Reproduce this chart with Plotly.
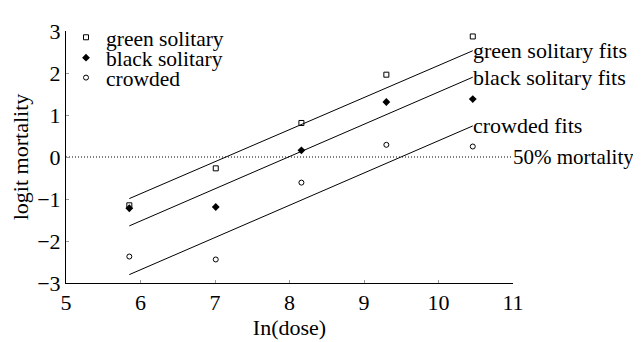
import plotly.graph_objects as go

dose = [5.85, 7.01, 8.16, 9.30, 10.46]
green_solitary = [-1.15, -0.27, 0.81, 1.96, 2.87]
black_solitary = [-1.22, -1.19, 0.16, 1.31, 1.38]
crowded = [-2.37, -2.44, -0.61, 0.29, 0.25]

fit_x = [5.85, 10.46]
green_fit = [-0.99, 2.53]
black_fit = [-1.64, 1.90]
crowded_fit = [-2.80, 0.74]

ref_x = [5, 11]
ref_y = [0, 0]

x_ticks = [5, 6, 7, 8, 9, 10, 11]
y_ticks = [-3, -2, -1, 0, 1, 2, 3]

FONT = "Liberation Serif, Times New Roman, serif"
FS = 22

fig = go.Figure()

fig.add_trace(go.Scatter(x=ref_x, y=ref_y, mode="lines",
                         line=dict(color="black", width=1, dash="1px,2px"),
                         showlegend=False, hoverinfo="skip"))
for fy in [green_fit, black_fit, crowded_fit]:
    fig.add_trace(go.Scatter(x=fit_x, y=fy, mode="lines",
                             line=dict(color="black", width=1),
                             showlegend=False, hoverinfo="skip"))

fig.add_trace(go.Scatter(x=dose, y=green_solitary, mode="markers", name="green solitary",
                         legend="legend",
                         marker=dict(symbol="square-open", size=5, color="black",
                                     line=dict(width=1, color="black"))))
fig.add_trace(go.Scatter(x=dose, y=black_solitary, mode="markers", name="black solitary",
                         legend="legend2",
                         marker=dict(symbol="diamond", size=6, color="black")))
fig.add_trace(go.Scatter(x=dose, y=crowded, mode="markers", name="crowded",
                         legend="legend3",
                         marker=dict(symbol="circle-open", size=5, color="black",
                                     line=dict(width=1, color="black"))))

labels = [("green solitary fits", green_fit[1]),
          ("black solitary fits", black_fit[1]),
          ("crowded fits", crowded_fit[1])]
for txt, yv in labels:
    fig.add_annotation(x=fit_x[1], y=yv, xref="x", yref="y", text=txt,
                       showarrow=False, xanchor="left", yanchor="middle",
                       xshift=-2, font=dict(family=FONT, size=FS, color="black"))
fig.add_annotation(x=ref_x[1], y=ref_y[1], xref="x", yref="y", text="50% mortality",
                   showarrow=False, xanchor="left", yanchor="middle",
                   xshift=-2, font=dict(family=FONT, size=21, color="black"))


def leg(yc):
    return dict(x=0.0, y=yc, xanchor="left", yanchor="middle",
                bgcolor="rgba(0,0,0,0)", font=dict(family=FONT, size=21.5),
                itemwidth=30)


# the page body has an 8px margin, so the figure is sized to fit the 641x342 window
fig.update_layout(
    width=633, height=334,
    margin=dict(l=58, r=128, t=9, b=59),
    plot_bgcolor="white", paper_bgcolor="white",
    font=dict(family=FONT, size=FS, color="black"),
    legend=leg(0.975), legend2=leg(0.894), legend3=leg(0.815),
    xaxis=dict(range=[5, 11], tickvals=x_ticks, showline=True, linecolor="black",
               linewidth=1, ticks="inside", ticklen=3, tickcolor="#999",
               showgrid=False, zeroline=False, automargin=False,
               title=dict(text="In(dose)", font=dict(family=FONT, size=FS), standoff=2),
               tickfont=dict(family=FONT, size=FS)),
    yaxis=dict(range=[-3, 3], tickvals=y_ticks, showline=True, linecolor="black",
               linewidth=1, ticks="inside", ticklen=3, tickcolor="#999",
               showgrid=False, zeroline=False, automargin=False,
               title=dict(text="logit mortality", font=dict(family=FONT, size=FS), standoff=4),
               tickfont=dict(family=FONT, size=FS)),
)

fig.write_html("out.html")
